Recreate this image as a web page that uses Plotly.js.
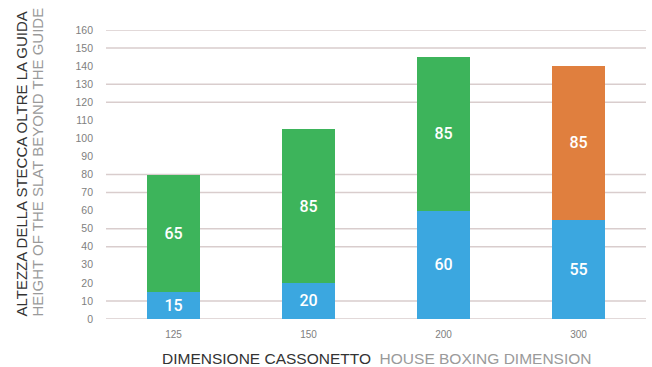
<!DOCTYPE html>
<html>
<head>
<meta charset="utf-8">
<script src="https://cdn.plot.ly/plotly-3.0.1.min.js"></script>
<style>html,body{margin:0;padding:0;background:#fff;}#chart{width:652px;height:367px;}</style>
</head>
<body>
<div id="chart"></div>
<script>
var categories = ["125", "150", "200", "300"];
var baseValues = [15, 20, 60, 55];
var topGreen = [65, 85, 85, null];
var topOrange = [null, null, null, 85];
var gridValues = [0, 10, 40, 50, 70, 80, 120, 130, 150, 160];
var yTicks = [0,10,20,30,40,50,60,70,80,90,100,110,120,130,140,150,160];

var labelFont = {family: "Roboto, 'DejaVu Sans', sans-serif", size: 16, color: "#ffffff", weight: 500};

var traces = [
  {type: "bar", x: categories, y: baseValues, text: baseValues.map(String),
   marker: {color: "#3ba7e0"}, textposition: "inside", insidetextanchor: "middle",
   textfont: labelFont, hoverinfo: "none"},
  {type: "bar", x: categories, y: topGreen, text: topGreen.map(function(v){return v==null?"":String(v);}),
   marker: {color: "#3db45b"}, textposition: "inside", insidetextanchor: "middle",
   textfont: labelFont, hoverinfo: "none"},
  {type: "bar", x: categories, y: topOrange, text: topOrange.map(function(v){return v==null?"":String(v);}),
   marker: {color: "#e07f3e"}, textposition: "inside", insidetextanchor: "middle",
   textfont: labelFont, hoverinfo: "none"}
];

var shapes = gridValues.map(function(v){
  return {type: "line", xref: "paper", yref: "y", x0: 0, x1: 1, y0: v, y1: v,
          line: {color: "#d9cdcd", width: 1.5}, layer: "below"};
});

var layout = {
  width: 652, height: 367,
  margin: {l: 106, r: 6, t: 30, b: 48},
  paper_bgcolor: "#ffffff", plot_bgcolor: "#ffffff",
  barmode: "stack", bargap: 0.61,
  showlegend: false,
  font: {family: "'Liberation Sans', Arial, sans-serif"},
  xaxis: {type: "category", showgrid: false, zeroline: false, showline: false,
          tickfont: {size: 10, color: "#808080"}, ticklabelstandoff: 8, automargin: false},
  yaxis: {range: [0, 160], tickvals: yTicks, showgrid: false, zeroline: false, showline: false,
          tickfont: {size: 10.5, color: "#808080"}, ticklabelstandoff: 12, automargin: false},
  shapes: shapes,
  annotations: [
    {xref: "paper", yref: "paper", x: 0.5, y: -0.135, xanchor: "center", yanchor: "middle",
     showarrow: false, font: {size: 15.5, color: "#333333"},
     text: "DIMENSIONE CASSONETTO  <span style='color:#9a9a9a'>HOUSE BOXING DIMENSION</span>"},
    {xref: "paper", yref: "paper", x: (21-106)/540, y: 0, xanchor: "center", yanchor: "bottom",
     showarrow: false, textangle: -90, font: {size: 15, color: "#333333"},
     text: "ALTEZZA DELLA STECCA OLTRE LA GUIDA"},
    {xref: "paper", yref: "paper", x: (37-106)/540, y: 0, xanchor: "center", yanchor: "bottom",
     showarrow: false, textangle: -90, font: {size: 15, color: "#9a9a9a"},
     text: "HEIGHT OF THE SLAT BEYOND THE GUIDE"}
  ]
};

Plotly.newPlot("chart", traces, layout, {displayModeBar: false, staticPlot: true});
</script>
</body>
</html>
